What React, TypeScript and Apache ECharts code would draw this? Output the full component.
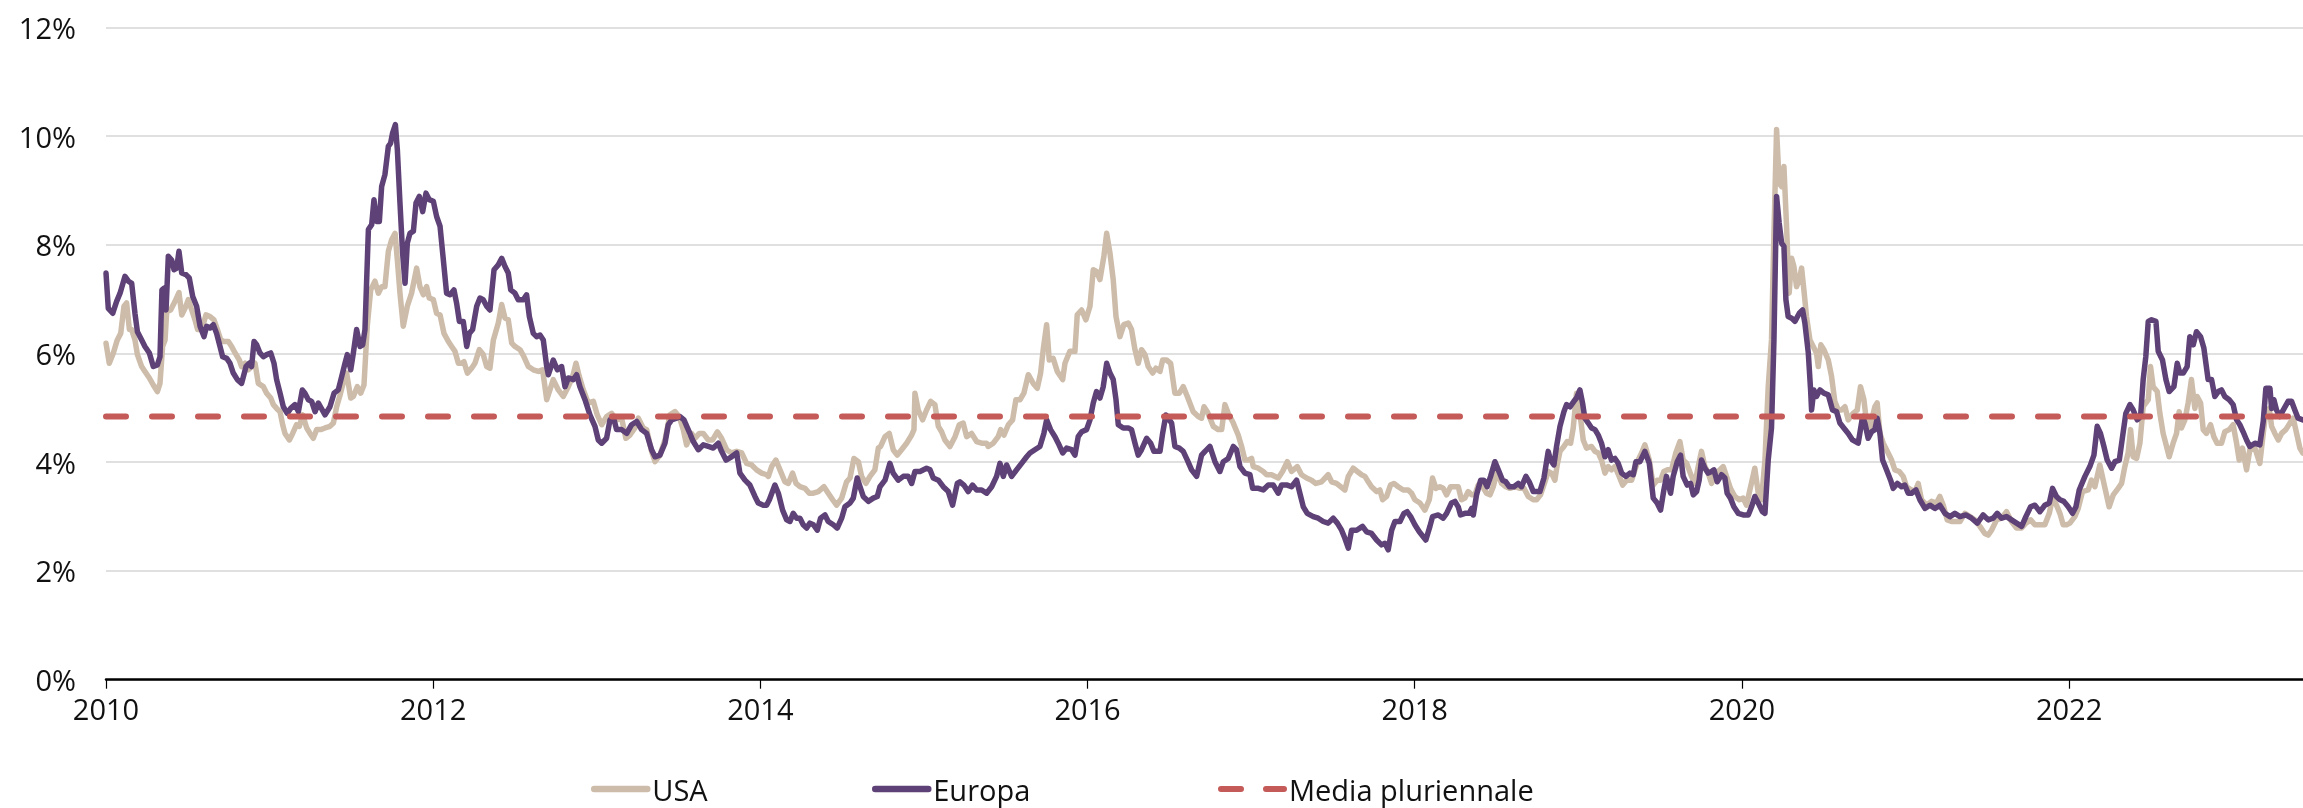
import React, { useEffect, useRef } from "react";
import * as echarts from "echarts";

// ---------- data ----------
const yearTicks = [2010, 2012, 2014, 2016, 2018, 2020, 2022];
const xStart = 2010;
const xEnd = 2023.43;
const mediaPluriennale = 4.84;

const usaSeries: [number, number][] = [
  [2010.0, 6.19], [2010.02, 5.82], [2010.045, 6.01], [2010.069, 6.25], [2010.09, 6.37], [2010.11, 6.87], [2010.126, 6.93], [2010.143, 6.44], [2010.157, 6.44], [2010.177, 6.25],
  [2010.192, 5.98], [2010.218, 5.76], [2010.238, 5.67], [2010.265, 5.55], [2010.289, 5.42], [2010.314, 5.3], [2010.33, 5.45], [2010.346, 6.13], [2010.361, 6.25], [2010.371, 6.77],
  [2010.395, 6.8], [2010.422, 6.96], [2010.446, 7.12], [2010.463, 6.71], [2010.483, 6.83], [2010.503, 6.99], [2010.524, 6.8], [2010.544, 6.62], [2010.56, 6.44], [2010.585, 6.44],
  [2010.611, 6.71], [2010.636, 6.68], [2010.66, 6.62], [2010.681, 6.44], [2010.701, 6.25], [2010.721, 6.22], [2010.748, 6.22], [2010.768, 6.13], [2010.789, 6.01], [2010.815, 5.88],
  [2010.829, 5.76], [2010.85, 5.82], [2010.87, 5.7], [2010.89, 5.76], [2010.911, 5.82], [2010.931, 5.45], [2010.962, 5.39], [2010.982, 5.27], [2011.007, 5.18], [2011.023, 5.06],
  [2011.043, 4.99], [2011.064, 4.93], [2011.08, 4.69], [2011.094, 4.53], [2011.121, 4.41], [2011.141, 4.53], [2011.165, 4.69], [2011.182, 4.66], [2011.202, 4.87], [2011.227, 4.63],
  [2011.247, 4.53], [2011.267, 4.44], [2011.288, 4.6], [2011.312, 4.6], [2011.339, 4.63], [2011.369, 4.66], [2011.39, 4.72], [2011.41, 5.02], [2011.434, 5.27], [2011.455, 5.52],
  [2011.471, 5.64], [2011.496, 5.18], [2011.512, 5.21], [2011.536, 5.39], [2011.557, 5.27], [2011.577, 5.42], [2011.597, 6.5], [2011.618, 7.17], [2011.644, 7.33], [2011.665, 7.11],
  [2011.685, 7.23], [2011.705, 7.23], [2011.726, 7.88], [2011.746, 8.09], [2011.767, 8.21], [2011.781, 7.72], [2011.797, 7.11], [2011.817, 6.5], [2011.842, 6.87], [2011.868, 7.11],
  [2011.899, 7.57], [2011.919, 7.23], [2011.94, 7.08], [2011.96, 7.23], [2011.976, 7.02], [2012.001, 6.99], [2012.021, 6.74], [2012.042, 6.71], [2012.066, 6.37], [2012.093, 6.22],
  [2012.113, 6.13], [2012.133, 6.04], [2012.154, 5.82], [2012.174, 5.82], [2012.188, 5.85], [2012.209, 5.64], [2012.235, 5.73], [2012.255, 5.82], [2012.282, 6.07], [2012.306, 5.98],
  [2012.327, 5.76], [2012.347, 5.73], [2012.368, 6.25], [2012.398, 6.56], [2012.419, 6.9], [2012.439, 6.65], [2012.459, 6.62], [2012.48, 6.19], [2012.5, 6.13], [2012.531, 6.07],
  [2012.555, 5.94], [2012.582, 5.76], [2012.612, 5.7], [2012.643, 5.67], [2012.669, 5.7], [2012.694, 5.15], [2012.734, 5.52], [2012.765, 5.33], [2012.795, 5.21], [2012.826, 5.39],
  [2012.853, 5.58], [2012.873, 5.82], [2012.893, 5.58], [2012.918, 5.33], [2012.948, 5.09], [2012.979, 5.12], [2013.003, 4.87], [2013.03, 4.69], [2013.06, 4.84], [2013.091, 4.9],
  [2013.121, 4.78], [2013.152, 4.81], [2013.178, 4.44], [2013.203, 4.5], [2013.233, 4.63], [2013.254, 4.81], [2013.284, 4.63], [2013.305, 4.6], [2013.335, 4.2], [2013.356, 4.01],
  [2013.386, 4.13], [2013.417, 4.41], [2013.447, 4.87], [2013.478, 4.93], [2013.504, 4.84], [2013.529, 4.6], [2013.549, 4.32], [2013.58, 4.53], [2013.6, 4.44], [2013.627, 4.53],
  [2013.651, 4.53], [2013.682, 4.41], [2013.708, 4.41], [2013.737, 4.56], [2013.763, 4.44], [2013.794, 4.23], [2013.824, 4.17], [2013.855, 4.2], [2013.886, 4.17], [2013.916, 3.98],
  [2013.947, 3.95], [2013.977, 3.86], [2014.008, 3.8], [2014.038, 3.77], [2014.049, 3.74], [2014.069, 3.92], [2014.095, 4.04], [2014.12, 3.86], [2014.15, 3.64], [2014.171, 3.61],
  [2014.197, 3.8], [2014.218, 3.61], [2014.242, 3.55], [2014.273, 3.52], [2014.299, 3.43], [2014.324, 3.43], [2014.354, 3.46], [2014.389, 3.55], [2014.415, 3.43], [2014.442, 3.31],
  [2014.466, 3.21], [2014.497, 3.34], [2014.527, 3.64], [2014.548, 3.71], [2014.572, 4.07], [2014.599, 4.01], [2014.619, 3.74], [2014.645, 3.61], [2014.67, 3.74], [2014.7, 3.86],
  [2014.721, 4.26], [2014.735, 4.29], [2014.762, 4.47], [2014.788, 4.53], [2014.812, 4.23], [2014.837, 4.13], [2014.863, 4.23], [2014.894, 4.35], [2014.925, 4.5], [2014.939, 4.6],
  [2014.945, 5.27], [2014.965, 4.96], [2014.992, 4.78], [2015.016, 4.96], [2015.041, 5.12], [2015.067, 5.06], [2015.088, 4.66], [2015.108, 4.56], [2015.128, 4.41], [2015.159, 4.29],
  [2015.19, 4.47], [2015.216, 4.69], [2015.24, 4.72], [2015.261, 4.47], [2015.291, 4.53], [2015.322, 4.38], [2015.353, 4.35], [2015.383, 4.35], [2015.393, 4.29], [2015.424, 4.35],
  [2015.454, 4.47], [2015.469, 4.6], [2015.489, 4.5], [2015.516, 4.69], [2015.542, 4.78], [2015.562, 5.15], [2015.587, 5.15], [2015.611, 5.27], [2015.638, 5.61], [2015.668, 5.45],
  [2015.693, 5.36], [2015.713, 5.64], [2015.729, 6.07], [2015.75, 6.53], [2015.766, 5.88], [2015.79, 5.91], [2015.815, 5.67], [2015.848, 5.52], [2015.862, 5.82], [2015.892, 6.04],
  [2015.923, 6.04], [2015.937, 6.71], [2015.964, 6.8], [2015.99, 6.62], [2016.015, 6.87], [2016.035, 7.54], [2016.055, 7.51], [2016.076, 7.36], [2016.1, 7.79], [2016.117, 8.21],
  [2016.137, 7.85], [2016.157, 7.36], [2016.174, 6.68], [2016.198, 6.31], [2016.222, 6.53], [2016.249, 6.56], [2016.269, 6.44], [2016.29, 6.07], [2016.31, 5.82], [2016.33, 6.07],
  [2016.351, 5.98], [2016.371, 5.76], [2016.398, 5.64], [2016.418, 5.73], [2016.443, 5.67], [2016.459, 5.88], [2016.483, 5.88], [2016.508, 5.82], [2016.534, 5.27], [2016.561, 5.27],
  [2016.585, 5.39], [2016.61, 5.21], [2016.646, 4.93], [2016.677, 4.84], [2016.697, 4.81], [2016.712, 5.02], [2016.732, 4.93], [2016.769, 4.66], [2016.799, 4.6], [2016.82, 4.6],
  [2016.84, 5.06], [2016.86, 4.9], [2016.891, 4.72], [2016.921, 4.5], [2016.942, 4.29], [2016.962, 4.04], [2016.983, 4.04], [2017.003, 4.07], [2017.013, 3.92], [2017.044, 3.89],
  [2017.074, 3.83], [2017.095, 3.77], [2017.125, 3.77], [2017.166, 3.71], [2017.192, 3.83], [2017.221, 4.01], [2017.247, 3.83], [2017.282, 3.92], [2017.308, 3.77], [2017.339, 3.71],
  [2017.369, 3.67], [2017.396, 3.61], [2017.43, 3.64], [2017.471, 3.77], [2017.492, 3.64], [2017.522, 3.61], [2017.547, 3.55], [2017.573, 3.49], [2017.594, 3.74], [2017.624, 3.89],
  [2017.649, 3.83], [2017.675, 3.77], [2017.696, 3.74], [2017.716, 3.64], [2017.736, 3.55], [2017.767, 3.46], [2017.787, 3.49], [2017.804, 3.31], [2017.828, 3.37], [2017.852, 3.58],
  [2017.873, 3.61], [2017.899, 3.55], [2017.93, 3.49], [2017.96, 3.49], [2017.981, 3.43], [2018.001, 3.31], [2018.032, 3.25], [2018.062, 3.12], [2018.089, 3.31], [2018.109, 3.71],
  [2018.13, 3.52], [2018.154, 3.55], [2018.174, 3.52], [2018.195, 3.4], [2018.219, 3.55], [2018.246, 3.55], [2018.266, 3.55], [2018.286, 3.31], [2018.307, 3.34], [2018.327, 3.46],
  [2018.348, 3.4], [2018.368, 3.4], [2018.388, 3.58], [2018.415, 3.55], [2018.439, 3.43], [2018.46, 3.4], [2018.48, 3.55], [2018.504, 3.83], [2018.531, 3.61], [2018.557, 3.55],
  [2018.582, 3.52], [2018.613, 3.55], [2018.643, 3.52], [2018.668, 3.52], [2018.694, 3.37], [2018.725, 3.31], [2018.745, 3.31], [2018.769, 3.4], [2018.796, 3.64], [2018.816, 3.83],
  [2018.836, 3.8], [2018.857, 3.67], [2018.871, 3.95], [2018.888, 4.2], [2018.912, 4.29], [2018.932, 4.38], [2018.953, 4.35], [2018.969, 4.63], [2018.989, 5.27], [2019.01, 4.9],
  [2019.03, 4.41], [2019.05, 4.26], [2019.081, 4.29], [2019.102, 4.2], [2019.122, 4.17], [2019.142, 4.04], [2019.163, 3.8], [2019.183, 3.92], [2019.203, 3.86], [2019.224, 3.92],
  [2019.25, 3.74], [2019.271, 3.58], [2019.295, 3.67], [2019.326, 3.67], [2019.346, 3.86], [2019.366, 4.04], [2019.387, 4.17], [2019.407, 4.32], [2019.434, 4.04], [2019.458, 3.58],
  [2019.482, 3.67], [2019.503, 3.67], [2019.523, 3.83], [2019.543, 3.86], [2019.57, 3.86], [2019.596, 4.17], [2019.621, 4.38], [2019.641, 4.04], [2019.662, 3.98], [2019.692, 3.74],
  [2019.713, 3.61], [2019.733, 3.92], [2019.753, 4.2], [2019.774, 3.92], [2019.794, 3.8], [2019.815, 3.61], [2019.835, 3.8], [2019.855, 3.83], [2019.886, 3.92], [2019.906, 3.74],
  [2019.93, 3.52], [2019.957, 3.37], [2019.984, 3.31], [2020.008, 3.34], [2020.028, 3.21], [2020.049, 3.49], [2020.079, 3.89], [2020.1, 3.43], [2020.12, 3.31], [2020.141, 4.04],
  [2020.161, 5.39], [2020.181, 6.25], [2020.196, 8.21], [2020.212, 10.12], [2020.228, 9.13], [2020.243, 9.07], [2020.257, 9.44], [2020.273, 8.34], [2020.289, 7.11], [2020.304, 7.75],
  [2020.318, 7.6], [2020.334, 7.23], [2020.351, 7.36], [2020.365, 7.57], [2020.379, 7.17], [2020.395, 6.68], [2020.416, 6.25], [2020.436, 6.13], [2020.456, 6.01], [2020.467, 5.76],
  [2020.483, 6.16], [2020.501, 6.07], [2020.528, 5.88], [2020.548, 5.58], [2020.568, 5.12], [2020.589, 4.96], [2020.609, 4.96], [2020.63, 5.02], [2020.65, 4.78], [2020.68, 4.9],
  [2020.705, 4.96], [2020.725, 5.39], [2020.746, 5.15], [2020.772, 4.47], [2020.793, 4.78], [2020.813, 5.02], [2020.827, 5.09], [2020.844, 4.53], [2020.864, 4.35], [2020.894, 4.17],
  [2020.915, 4.04], [2020.935, 3.86], [2020.962, 3.83], [2020.986, 3.74], [2021.006, 3.55], [2021.037, 3.49], [2021.058, 3.46], [2021.078, 3.61], [2021.098, 3.31], [2021.129, 3.21],
  [2021.159, 3.28], [2021.19, 3.25], [2021.21, 3.37], [2021.231, 3.21], [2021.255, 2.94], [2021.282, 2.91], [2021.308, 2.91], [2021.333, 2.91], [2021.363, 3.06], [2021.394, 3.0],
  [2021.424, 2.94], [2021.455, 2.82], [2021.485, 2.69], [2021.506, 2.66], [2021.526, 2.75], [2021.557, 2.94], [2021.587, 2.97], [2021.618, 3.09], [2021.648, 2.91], [2021.679, 2.79],
  [2021.71, 2.79], [2021.736, 2.88], [2021.765, 2.94], [2021.791, 2.85], [2021.822, 2.85], [2021.852, 2.85], [2021.879, 3.06], [2021.899, 3.34], [2021.923, 3.21], [2021.944, 3.06],
  [2021.964, 2.85], [2021.985, 2.85], [2022.005, 2.88], [2022.035, 3.0], [2022.056, 3.15], [2022.082, 3.46], [2022.117, 3.49], [2022.137, 3.67], [2022.158, 3.55], [2022.188, 3.95],
  [2022.213, 3.61], [2022.245, 3.18], [2022.27, 3.4], [2022.3, 3.52], [2022.321, 3.61], [2022.341, 3.92], [2022.361, 4.17], [2022.376, 4.6], [2022.392, 4.1], [2022.413, 4.07],
  [2022.433, 4.35], [2022.453, 5.02], [2022.469, 5.09], [2022.484, 5.15], [2022.498, 5.76], [2022.514, 5.39], [2022.539, 5.3], [2022.555, 4.9], [2022.575, 4.53], [2022.596, 4.29],
  [2022.612, 4.1], [2022.636, 4.35], [2022.657, 4.53], [2022.673, 4.93], [2022.687, 4.63], [2022.708, 4.78], [2022.728, 5.09], [2022.748, 5.52], [2022.769, 4.99], [2022.783, 5.21],
  [2022.804, 5.09], [2022.82, 4.6], [2022.84, 4.53], [2022.865, 4.69], [2022.885, 4.47], [2022.905, 4.35], [2022.932, 4.35], [2022.952, 4.56], [2022.979, 4.6], [2023.003, 4.69],
  [2023.024, 4.35], [2023.04, 4.04], [2023.06, 4.26], [2023.085, 3.86], [2023.105, 4.23], [2023.136, 4.26], [2023.166, 3.98], [2023.187, 4.53], [2023.203, 4.93], [2023.224, 4.99],
  [2023.238, 4.66], [2023.258, 4.53], [2023.279, 4.41], [2023.299, 4.53], [2023.325, 4.6], [2023.35, 4.72], [2023.37, 4.81], [2023.391, 4.53], [2023.411, 4.26], [2023.429, 4.17],
];

const europaSeries: [number, number][] = [
  [2010.0, 7.48], [2010.014, 6.83], [2010.041, 6.74], [2010.065, 6.96], [2010.086, 7.11], [2010.116, 7.42], [2010.137, 7.33], [2010.157, 7.29], [2010.177, 6.74], [2010.192, 6.4],
  [2010.218, 6.25], [2010.238, 6.13], [2010.265, 6.01], [2010.289, 5.76], [2010.314, 5.79], [2010.33, 5.94], [2010.342, 7.17], [2010.355, 7.2], [2010.367, 6.8], [2010.381, 7.79],
  [2010.401, 7.72], [2010.416, 7.54], [2010.432, 7.57], [2010.446, 7.88], [2010.463, 7.48], [2010.489, 7.45], [2010.509, 7.39], [2010.53, 7.05], [2010.554, 6.87], [2010.575, 6.5],
  [2010.599, 6.31], [2010.615, 6.5], [2010.636, 6.47], [2010.656, 6.53], [2010.676, 6.37], [2010.697, 6.13], [2010.713, 5.94], [2010.738, 5.91], [2010.758, 5.82], [2010.778, 5.64],
  [2010.803, 5.52], [2010.829, 5.45], [2010.856, 5.76], [2010.876, 5.82], [2010.89, 5.76], [2010.905, 6.22], [2010.921, 6.16], [2010.941, 6.01], [2010.962, 5.94], [2010.982, 5.98],
  [2011.007, 6.01], [2011.027, 5.82], [2011.043, 5.52], [2011.064, 5.27], [2011.084, 5.02], [2011.108, 4.9], [2011.129, 4.99], [2011.155, 5.06], [2011.176, 4.93], [2011.2, 5.33],
  [2011.216, 5.27], [2011.237, 5.15], [2011.257, 5.12], [2011.278, 4.93], [2011.298, 5.09], [2011.339, 4.87], [2011.369, 5.02], [2011.394, 5.27], [2011.42, 5.33], [2011.441, 5.58],
  [2011.461, 5.82], [2011.475, 5.98], [2011.496, 5.7], [2011.512, 6.01], [2011.532, 6.44], [2011.553, 6.13], [2011.569, 6.16], [2011.583, 6.44], [2011.604, 8.28], [2011.624, 8.37],
  [2011.638, 8.83], [2011.654, 8.43], [2011.671, 8.43], [2011.685, 9.07], [2011.705, 9.29], [2011.726, 9.81], [2011.74, 9.87], [2011.752, 10.06], [2011.769, 10.21], [2011.781, 9.75],
  [2011.797, 8.77], [2011.813, 7.85], [2011.828, 7.29], [2011.842, 8.03], [2011.858, 8.21], [2011.879, 8.25], [2011.895, 8.77], [2011.915, 8.89], [2011.936, 8.61], [2011.956, 8.95],
  [2011.976, 8.83], [2012.001, 8.8], [2012.021, 8.52], [2012.042, 8.34], [2012.058, 7.85], [2012.082, 7.11], [2012.103, 7.08], [2012.127, 7.17], [2012.143, 6.93], [2012.16, 6.59],
  [2012.184, 6.59], [2012.205, 6.13], [2012.221, 6.37], [2012.241, 6.44], [2012.266, 6.87], [2012.286, 7.02], [2012.306, 6.99], [2012.327, 6.87], [2012.347, 6.8], [2012.372, 7.54],
  [2012.398, 7.63], [2012.419, 7.75], [2012.439, 7.6], [2012.459, 7.48], [2012.474, 7.17], [2012.5, 7.11], [2012.52, 6.99], [2012.551, 6.99], [2012.571, 7.08], [2012.588, 6.68],
  [2012.612, 6.37], [2012.632, 6.31], [2012.653, 6.34], [2012.673, 6.25], [2012.694, 5.76], [2012.704, 5.61], [2012.734, 5.88], [2012.759, 5.7], [2012.785, 5.76], [2012.806, 5.39],
  [2012.826, 5.55], [2012.857, 5.52], [2012.877, 5.61], [2012.897, 5.39], [2012.928, 5.15], [2012.958, 4.87], [2012.989, 4.66], [2013.009, 4.41], [2013.03, 4.35], [2013.06, 4.44],
  [2013.081, 4.78], [2013.101, 4.84], [2013.121, 4.6], [2013.152, 4.6], [2013.183, 4.53], [2013.213, 4.69], [2013.244, 4.75], [2013.274, 4.6], [2013.305, 4.53], [2013.335, 4.23],
  [2013.356, 4.1], [2013.386, 4.13], [2013.417, 4.35], [2013.437, 4.69], [2013.458, 4.78], [2013.488, 4.81], [2013.509, 4.84], [2013.533, 4.78], [2013.559, 4.6], [2013.59, 4.38],
  [2013.621, 4.23], [2013.651, 4.32], [2013.682, 4.29], [2013.712, 4.26], [2013.743, 4.35], [2013.763, 4.2], [2013.79, 4.04], [2013.824, 4.1], [2013.855, 4.17], [2013.875, 3.8],
  [2013.906, 3.67], [2013.936, 3.58], [2013.967, 3.37], [2013.987, 3.25], [2014.018, 3.21], [2014.038, 3.21], [2014.055, 3.31], [2014.089, 3.58], [2014.11, 3.43], [2014.136, 3.12],
  [2014.161, 2.94], [2014.181, 2.91], [2014.201, 3.06], [2014.222, 2.97], [2014.242, 2.97], [2014.262, 2.85], [2014.283, 2.79], [2014.303, 2.88], [2014.324, 2.85], [2014.348, 2.75],
  [2014.368, 2.97], [2014.395, 3.03], [2014.415, 2.91], [2014.446, 2.85], [2014.47, 2.79], [2014.497, 2.97], [2014.517, 3.18], [2014.548, 3.25], [2014.568, 3.34], [2014.592, 3.71],
  [2014.609, 3.55], [2014.629, 3.37], [2014.66, 3.28], [2014.69, 3.34], [2014.715, 3.37], [2014.731, 3.55], [2014.762, 3.67], [2014.792, 3.98], [2014.812, 3.8], [2014.843, 3.67],
  [2014.874, 3.74], [2014.904, 3.74], [2014.925, 3.61], [2014.945, 3.83], [2014.976, 3.83], [2015.016, 3.89], [2015.037, 3.86], [2015.057, 3.71], [2015.088, 3.67], [2015.118, 3.55],
  [2015.149, 3.46], [2015.175, 3.21], [2015.204, 3.61], [2015.22, 3.64], [2015.244, 3.58], [2015.271, 3.46], [2015.297, 3.58], [2015.322, 3.49], [2015.353, 3.49], [2015.383, 3.43],
  [2015.414, 3.55], [2015.444, 3.74], [2015.465, 3.98], [2015.485, 3.74], [2015.505, 3.95], [2015.536, 3.74], [2015.566, 3.86], [2015.597, 3.98], [2015.628, 4.1], [2015.648, 4.17],
  [2015.678, 4.23], [2015.709, 4.29], [2015.733, 4.53], [2015.75, 4.78], [2015.774, 4.6], [2015.801, 4.47], [2015.821, 4.35], [2015.848, 4.17], [2015.872, 4.26], [2015.903, 4.23],
  [2015.923, 4.13], [2015.943, 4.47], [2015.964, 4.56], [2015.994, 4.6], [2016.015, 4.78], [2016.035, 5.09], [2016.055, 5.3], [2016.076, 5.18], [2016.096, 5.39], [2016.117, 5.82],
  [2016.137, 5.64], [2016.157, 5.52], [2016.174, 5.15], [2016.188, 4.69], [2016.218, 4.63], [2016.249, 4.63], [2016.269, 4.6], [2016.29, 4.35], [2016.31, 4.13], [2016.33, 4.23],
  [2016.361, 4.44], [2016.386, 4.35], [2016.406, 4.2], [2016.443, 4.2], [2016.459, 4.53], [2016.479, 4.87], [2016.5, 4.78], [2016.514, 4.72], [2016.534, 4.29], [2016.561, 4.26],
  [2016.585, 4.2], [2016.61, 4.04], [2016.636, 3.86], [2016.667, 3.74], [2016.697, 4.13], [2016.718, 4.2], [2016.748, 4.29], [2016.779, 4.01], [2016.809, 3.83], [2016.83, 4.01],
  [2016.86, 4.07], [2016.891, 4.29], [2016.911, 4.23], [2016.932, 3.92], [2016.962, 3.8], [2016.993, 3.77], [2017.009, 3.52], [2017.044, 3.52], [2017.074, 3.49], [2017.105, 3.58],
  [2017.135, 3.58], [2017.166, 3.43], [2017.186, 3.58], [2017.221, 3.58], [2017.247, 3.55], [2017.278, 3.67], [2017.298, 3.43], [2017.319, 3.18], [2017.343, 3.06], [2017.38, 3.0],
  [2017.41, 2.97], [2017.441, 2.91], [2017.471, 2.88], [2017.502, 2.97], [2017.527, 2.88], [2017.553, 2.75], [2017.573, 2.6], [2017.594, 2.42], [2017.614, 2.75], [2017.645, 2.75],
  [2017.681, 2.82], [2017.706, 2.72], [2017.736, 2.69], [2017.767, 2.57], [2017.797, 2.48], [2017.818, 2.51], [2017.838, 2.39], [2017.859, 2.75], [2017.879, 2.91], [2017.91, 2.91],
  [2017.934, 3.06], [2017.954, 3.09], [2017.975, 3.0], [2018.001, 2.85], [2018.028, 2.72], [2018.052, 2.63], [2018.068, 2.57], [2018.093, 2.82], [2018.109, 3.0], [2018.144, 3.03],
  [2018.174, 2.97], [2018.195, 3.06], [2018.225, 3.25], [2018.246, 3.28], [2018.266, 3.18], [2018.28, 3.03], [2018.307, 3.06], [2018.333, 3.06], [2018.348, 3.15], [2018.358, 3.03],
  [2018.378, 3.4], [2018.403, 3.67], [2018.423, 3.67], [2018.443, 3.55], [2018.464, 3.74], [2018.49, 4.01], [2018.511, 3.86], [2018.537, 3.67], [2018.557, 3.64], [2018.578, 3.55],
  [2018.606, 3.55], [2018.633, 3.61], [2018.653, 3.55], [2018.68, 3.74], [2018.7, 3.64], [2018.725, 3.46], [2018.765, 3.46], [2018.79, 3.71], [2018.816, 4.2], [2018.83, 4.04],
  [2018.851, 3.95], [2018.867, 4.29], [2018.888, 4.66], [2018.912, 4.93], [2018.928, 5.06], [2018.949, 5.02], [2018.973, 5.12], [2018.989, 5.18], [2019.01, 5.33], [2019.026, 5.09],
  [2019.04, 4.81], [2019.061, 4.72], [2019.081, 4.63], [2019.102, 4.6], [2019.122, 4.5], [2019.142, 4.35], [2019.163, 4.1], [2019.183, 4.23], [2019.203, 4.04], [2019.224, 4.07],
  [2019.244, 3.98], [2019.265, 3.8], [2019.291, 3.74], [2019.316, 3.8], [2019.336, 3.77], [2019.352, 4.01], [2019.377, 4.01], [2019.407, 4.2], [2019.434, 3.98], [2019.458, 3.34],
  [2019.482, 3.25], [2019.503, 3.12], [2019.523, 3.49], [2019.539, 3.74], [2019.564, 3.43], [2019.58, 3.74], [2019.605, 4.01], [2019.625, 4.13], [2019.641, 3.74], [2019.666, 3.58],
  [2019.686, 3.61], [2019.703, 3.4], [2019.723, 3.46], [2019.739, 3.67], [2019.753, 4.04], [2019.774, 3.89], [2019.794, 3.8], [2019.815, 3.83], [2019.829, 3.86], [2019.849, 3.64],
  [2019.876, 3.77], [2019.896, 3.71], [2019.91, 3.43], [2019.93, 3.34], [2019.951, 3.18], [2019.978, 3.06], [2020.008, 3.03], [2020.039, 3.03], [2020.059, 3.18], [2020.079, 3.37],
  [2020.1, 3.25], [2020.126, 3.09], [2020.141, 3.06], [2020.161, 4.04], [2020.181, 4.63], [2020.196, 6.25], [2020.212, 8.89], [2020.228, 8.4], [2020.243, 8.03], [2020.257, 7.97],
  [2020.269, 6.99], [2020.283, 6.68], [2020.304, 6.65], [2020.324, 6.59], [2020.351, 6.74], [2020.371, 6.8], [2020.385, 6.56], [2020.406, 6.01], [2020.42, 5.33], [2020.426, 4.96],
  [2020.44, 5.33], [2020.456, 5.21], [2020.477, 5.33], [2020.501, 5.27], [2020.528, 5.24], [2020.554, 4.96], [2020.579, 4.93], [2020.599, 4.72], [2020.623, 4.63], [2020.65, 4.53],
  [2020.676, 4.41], [2020.711, 4.35], [2020.738, 4.84], [2020.752, 4.72], [2020.772, 4.44], [2020.793, 4.56], [2020.813, 4.6], [2020.827, 4.81], [2020.844, 4.53], [2020.86, 4.04],
  [2020.884, 3.86], [2020.909, 3.67], [2020.925, 3.52], [2020.95, 3.61], [2020.976, 3.55], [2020.996, 3.58], [2021.017, 3.43], [2021.037, 3.43], [2021.064, 3.49], [2021.088, 3.31],
  [2021.119, 3.15], [2021.149, 3.21], [2021.18, 3.15], [2021.21, 3.21], [2021.241, 3.06], [2021.272, 3.0], [2021.302, 3.06], [2021.333, 3.0], [2021.369, 3.03], [2021.404, 2.97],
  [2021.439, 2.88], [2021.475, 3.03], [2021.506, 2.94], [2021.536, 2.97], [2021.561, 3.06], [2021.587, 2.97], [2021.618, 3.0], [2021.648, 2.94], [2021.679, 2.88], [2021.71, 2.82],
  [2021.736, 3.0], [2021.765, 3.18], [2021.791, 3.21], [2021.822, 3.09], [2021.852, 3.21], [2021.879, 3.25], [2021.899, 3.52], [2021.923, 3.37], [2021.944, 3.31], [2021.968, 3.28],
  [2021.995, 3.18], [2022.021, 3.06], [2022.042, 3.18], [2022.062, 3.49], [2022.097, 3.74], [2022.127, 3.92], [2022.152, 4.13], [2022.172, 4.66], [2022.192, 4.53], [2022.213, 4.29],
  [2022.233, 4.04], [2022.26, 3.89], [2022.28, 4.01], [2022.307, 4.04], [2022.327, 4.47], [2022.347, 4.9], [2022.372, 5.06], [2022.392, 4.96], [2022.417, 4.78], [2022.437, 4.84],
  [2022.453, 5.52], [2022.469, 5.94], [2022.484, 6.59], [2022.504, 6.62], [2022.531, 6.59], [2022.545, 6.04], [2022.571, 5.88], [2022.592, 5.52], [2022.612, 5.3], [2022.641, 5.39],
  [2022.661, 5.82], [2022.677, 5.64], [2022.698, 5.64], [2022.722, 5.76], [2022.738, 6.31], [2022.759, 6.16], [2022.779, 6.4], [2022.804, 6.31], [2022.824, 6.1], [2022.85, 5.52],
  [2022.871, 5.52], [2022.891, 5.21], [2022.912, 5.3], [2022.932, 5.33], [2022.952, 5.21], [2022.979, 5.15], [2023.003, 5.06], [2023.024, 4.78], [2023.044, 4.69], [2023.064, 4.56],
  [2023.085, 4.41], [2023.105, 4.29], [2023.136, 4.35], [2023.166, 4.32], [2023.187, 4.75], [2023.203, 5.36], [2023.228, 5.36], [2023.238, 4.99], [2023.252, 5.15], [2023.268, 4.96],
  [2023.289, 4.84], [2023.309, 4.96], [2023.339, 5.12], [2023.36, 5.12], [2023.38, 4.96], [2023.4, 4.81], [2023.429, 4.78],
];

// ---------- styles ----------
const FONT = "'Open Sans', 'Noto Sans', sans-serif";
const USA_COLOR = "#cdbca9";
const EUROPA_COLOR = "#5e4176";
const MEDIA_COLOR = "#c55b59";
const TEXT_COLOR = "#111111";

export default function App() {
  const ref = useRef<HTMLDivElement>(null);

  useEffect(() => {
    if (!ref.current) return;
    const chart = echarts.init(ref.current, null, { renderer: "svg" });

    const legendCommon = {
      top: 774,
      padding: 0,
      itemHeight: 2,
      selectedMode: false,
      itemStyle: { opacity: 0 },
      textStyle: { fontSize: 29, color: TEXT_COLOR, fontFamily: FONT, lineHeight: 30 },
    };

    chart.setOption({
      animation: false,
      textStyle: { fontFamily: FONT },
      grid: {
        left: 106,
        right: 0,
        top: 27.3,
        bottom: 128.3,
        containLabel: false,
        outerBoundsMode: "none",
      },
      xAxis: {
        type: "value",
        min: xStart,
        max: xEnd,
        interval: 2,
        axisLine: { show: true, onZero: false, lineStyle: { color: "#000", width: 2.5 } },
        axisTick: {
          show: true,
          length: 9,
          customValues: yearTicks,
          lineStyle: { color: "#000", width: 1.2 },
        },
        axisLabel: {
          customValues: yearTicks,
          formatter: (v: number) => String(Math.round(v)),
          fontSize: 29,
          color: TEXT_COLOR,
          fontFamily: FONT,
          margin: 14,
        },
        splitLine: { show: false },
      },
      yAxis: {
        type: "value",
        min: 0,
        max: 12,
        interval: 2,
        axisLine: { show: false },
        axisTick: { show: false },
        axisLabel: {
          formatter: "{value}%",
          fontSize: 29,
          color: TEXT_COLOR,
          fontFamily: FONT,
          margin: 30,
        },
        splitLine: { lineStyle: { color: "#d6d6d6", width: 1.5 } },
      },
      legend: [
        { ...legendCommon, left: 591, itemWidth: 53, data: ["USA"], lineStyle: { width: 6.5, cap: "round" } },
        { ...legendCommon, left: 872, itemWidth: 53, data: ["Europa"], lineStyle: { width: 6.5, cap: "round" } },
        { ...legendCommon, left: 1218, itemWidth: 63, data: ["Media pluriennale"], lineStyle: { width: 6, type: [20, 25], cap: "round" } },
      ],
      series: [
        {
          name: "USA",
          type: "line",
          data: usaSeries,
          showSymbol: false,
          symbol: "none",
          z: 2,
          emphasis: { disabled: true },
          itemStyle: { color: USA_COLOR },
          lineStyle: { color: USA_COLOR, width: 5.5, cap: "round", join: "round" },
        },
        {
          name: "Europa",
          type: "line",
          data: europaSeries,
          showSymbol: false,
          symbol: "none",
          z: 3,
          emphasis: { disabled: true },
          itemStyle: { color: EUROPA_COLOR },
          lineStyle: { color: EUROPA_COLOR, width: 5.5, cap: "round", join: "round" },
        },
        {
          name: "Media pluriennale",
          type: "line",
          data: [
            [xStart, mediaPluriennale],
            [xEnd, mediaPluriennale],
          ],
          showSymbol: false,
          symbol: "none",
          z: 4,
          emphasis: { disabled: true },
          itemStyle: { color: MEDIA_COLOR },
          lineStyle: { color: MEDIA_COLOR, width: 6, type: [20, 26], cap: "round" },
        },
      ],
    });

    return () => chart.dispose();
  }, []);

  return (
    <div
      ref={ref}
      style={{ position: "fixed", left: 0, top: 0, width: 2303, height: 808 }}
    />
  );
}
